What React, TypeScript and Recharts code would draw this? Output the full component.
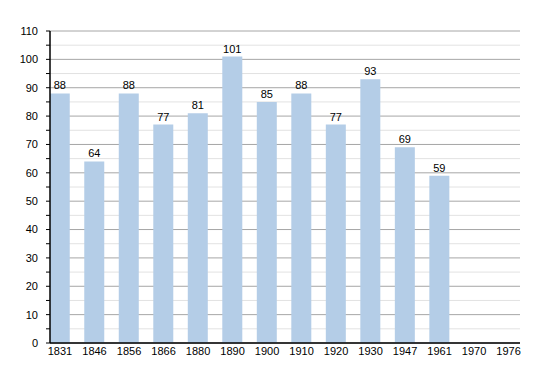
import React from "react";
import {
  BarChart,
  Bar,
  XAxis,
  YAxis,
  CartesianGrid,
  LabelList,
} from "recharts";

const years = ["1831", "1846", "1856", "1866", "1880", "1890", "1900", "1910", "1920", "1930", "1947", "1961", "1970", "1976"];
const population = [88, 64, 88, 77, 81, 101, 85, 88, 77, 93, 69, 59, null, null];
const yTicks = [0, 5, 10, 15, 20, 25, 30, 35, 40, 45, 50, 55, 60, 65, 70, 75, 80, 85, 90, 95, 100, 105, 110];
const majorTicks = [0, 10, 20, 30, 40, 50, 60, 70, 80, 90, 100, 110];
const minorTicks = [5, 15, 25, 35, 45, 55, 65, 75, 85, 95, 105];

const data = years.map((y, i) => ({ idx: i, year: y, value: population[i] }));

const font = "'Liberation Sans', Arial, sans-serif";

export default function App() {
  return (
    <div style={{ width: 550, height: 373, background: "#fff" }}>
      <style>{"body{margin:0}"}</style>
      <BarChart
        width={550}
        height={373}
        data={data}
        margin={{ top: 31, right: 30, bottom: 10, left: 0 }}
        style={{ fontFamily: font }}
      >
        <CartesianGrid
          vertical={false}
          horizontalValues={minorTicks}
          stroke="#e2e2e2"
        />
        <CartesianGrid
          vertical={false}
          horizontalValues={majorTicks}
          stroke="#a6a6a6"
        />
        <XAxis
          dataKey="idx"
          type="number"
          domain={[-0.29, 13.33]}
          ticks={years.map((_, i) => i)}
          tickFormatter={(v) => years[v]}
          interval={0}
          allowDataOverflow
          height={20}
          tickLine={false}
          tickSize={2}
          axisLine={{ stroke: "#000", strokeWidth: 1.5 }}
          tick={{ fill: "#000", fontSize: 11 }}
        />
        <YAxis
          type="number"
          domain={[0, 110]}
          ticks={yTicks}
          interval={0}
          width={50}
          tickSize={4}
          tickMargin={8}
          tickFormatter={(v) => (v % 10 === 0 ? String(v) : "")}
          axisLine={{ stroke: "#000", strokeWidth: 1.5 }}
          tickLine={{ stroke: "#000" }}
          tick={{ fill: "#000", fontSize: 11 }}
        />
        <Bar dataKey="value" fill="#b4cde7" barSize={20} isAnimationActive={false}>
          <LabelList dataKey="value" position="top" offset={4} fill="#000" fontSize={11} />
        </Bar>
      </BarChart>
    </div>
  );
}
